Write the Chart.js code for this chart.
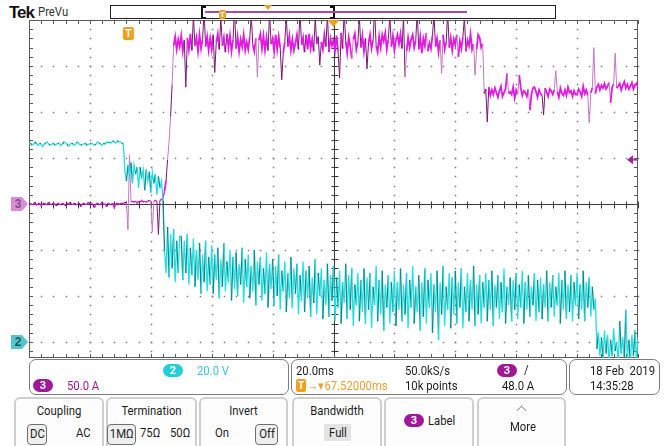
<!DOCTYPE html>
<html>
<head>
<meta charset="utf-8">
<script src="https://cdn.jsdelivr.net/npm/chart.js@4.4.0/dist/chart.umd.min.js"></script>
<style>
  html, body { margin: 0; padding: 0; background: #fff; }
  body {
    width: 667px; height: 446px; position: relative; overflow: hidden;
    font-family: Roboto, "Noto Sans", sans-serif;
    font-size: 13px; color: #1e1e1e;
  }
  #scope { position: absolute; left: 0; top: 0; width: 667px; height: 360px; }
  .abs { position: absolute; white-space: pre; line-height: 14px; transform: scaleX(0.87); transform-origin: 0 50%; }
  .panel { position: absolute; border: 1.5px solid #7c7c7c; border-radius: 7px; box-sizing: border-box; }
  .btn { position: absolute; top: 397px; height: 60px; border: 2px solid #cfcfcf; border-radius: 6px; box-sizing: border-box; background: #fdfdfd; }
  .btn .title { position: absolute; left: 0; right: 0; top: 5px; text-align: center; line-height: 14px; transform: scaleX(0.87); }
  .pill { position: absolute; width: 20px; height: 13px; border-radius: 7px; color: #fff; font-size: 11px; line-height: 13px; text-align: center; font-weight: bold; }
  .boxed { position: absolute; border: 1.5px solid #6f6f6f; border-radius: 4px; background: #eeeeee; box-sizing: border-box; text-align: center; line-height: 17px; }
  .boxed span { display: inline-block; transform: scaleX(0.87); }
  .tbox { position: absolute; background: #f0a01e; color: #fff; font-weight: bold; text-align: center; border-radius: 2px; }
</style>
</head>
<body>

<!-- header -->
<div class="abs" style="left:9px;top:4px;font:bold 17px 'Liberation Sans',sans-serif;letter-spacing:-1px;line-height:17px;color:#111;transform:none">Tek</div>
<div class="abs" style="left:38px;top:5px;font-size:13px;color:#333">PreVu</div>

<!-- record view bar -->
<div style="position:absolute;left:110px;top:5px;width:446px;height:14px;border:1px solid #222;box-sizing:border-box"></div>
<div style="position:absolute;left:201px;top:6px;width:2px;height:12px;background:#111"></div>
<div style="position:absolute;left:201px;top:6px;width:5px;height:1.5px;background:#111"></div>
<div style="position:absolute;left:201px;top:16.5px;width:5px;height:1.5px;background:#111"></div>
<div style="position:absolute;left:333px;top:6px;width:2px;height:12px;background:#111"></div>
<div style="position:absolute;left:330px;top:6px;width:5px;height:1.5px;background:#111"></div>
<div style="position:absolute;left:330px;top:16.5px;width:5px;height:1.5px;background:#111"></div>
<div style="position:absolute;left:205px;top:11px;width:262px;height:1.5px;background:#a94aa9"></div>
<div class="tbox" style="left:219px;top:10px;width:7px;height:9px;font-size:8px;line-height:9px">T</div>
<div style="position:absolute;left:264px;top:5px;width:0;height:0;border-left:4px solid transparent;border-right:4px solid transparent;border-top:5px solid #f0a01e"></div>

<div id="scope"><canvas id="scopeCanvas"></canvas></div>

<!-- readouts -->
<div class="panel" style="left:29px;top:359px;width:260px;height:36px"></div>
<div class="pill" style="left:163px;top:364px;background:#24cfd8">2</div>
<div class="abs" style="left:197px;top:364px;color:#3cc6d6">20.0 V</div>
<div class="pill" style="left:33px;top:379px;background:#a0189a">3</div>
<div class="abs" style="left:67px;top:379px;color:#a0189a">50.0 A</div>

<div class="panel" style="left:291px;top:359px;width:276px;height:36px"></div>
<div class="abs" style="left:296px;top:364px">20.0ms</div>
<div class="tbox" style="left:296px;top:379px;width:10px;height:13px;font-size:10px;line-height:13px">T</div>
<div class="abs" style="left:307px;top:379px;color:#e8a030">→▾67.52000ms</div>
<div class="abs" style="left:405px;top:364px">50.0kS/s</div>
<div class="abs" style="left:405px;top:379px">10k points</div>
<div class="pill" style="left:497px;top:364px;background:#a0189a">3</div>
<div class="abs" style="left:524px;top:363px">/</div>
<div class="abs" style="left:502px;top:379px">48.0 A</div>

<div class="panel" style="left:569px;top:359px;width:91px;height:36px"></div>
<div class="abs" style="left:590px;top:364px">18 Feb  2019</div>
<div class="abs" style="left:590px;top:379px">14:35:28</div>

<!-- menu buttons -->
<div class="btn" style="left:14px;width:90px"><div class="title">Coupling</div></div>
<div class="boxed" style="left:27px;top:424px;width:20px;height:21px"><span>DC</span></div>
<div class="abs" style="left:76px;top:426px">AC</div>

<div class="btn" style="left:106px;width:91px"><div class="title">Termination</div></div>
<div class="boxed" style="left:107px;top:424px;width:29px;height:21px"><span>1MΩ</span></div>
<div class="abs" style="left:140px;top:426px">75Ω</div>
<div class="abs" style="left:170px;top:426px">50Ω</div>

<div class="btn" style="left:199px;width:89px"><div class="title">Invert</div></div>
<div class="abs" style="left:215px;top:426px">On</div>
<div class="boxed" style="left:255px;top:424px;width:23px;height:21px"><span>Off</span></div>

<div class="btn" style="left:292px;width:90px"><div class="title">Bandwidth</div></div>
<div style="position:absolute;left:324px;top:424px;width:27px;height:17px;background:#e4e4e4"></div>
<div class="abs" style="left:329px;top:426px">Full</div>

<div class="btn" style="left:384px;width:90px"></div>
<div class="pill" style="left:404px;top:414px;background:#a0189a">3</div>
<div class="abs" style="left:428px;top:414px">Label</div>

<div class="btn" style="left:477px;width:89px"></div>
<div style="position:absolute;left:518px;top:407px;width:6px;height:6px;border-top:1.5px solid #9a9a9a;border-left:1.5px solid #9a9a9a;transform:rotate(45deg)"></div>
<div class="abs" style="left:510px;top:420px">More</div>

<script>
// scope settings
const msPerDiv = 20;
const voltsPerDiv = 20;   // channel 2
const ampsPerDiv = 50;    // channel 3
const divTop = 4;             // graticule divisions above centre
const divBottom = -154 / 46;  // lower part hidden by readouts
const ch2OffsetDiv = -3;      // channel 2 ground marker
const sampleMs = 0.5;
const triggerMs = 100 - 67.52;
const triggerLevelA = 48;

// channel 2 (cyan), volts, one sample every 0.5 ms
const ch2Volts = [
  86, 86.5, 85.5, 86, 87, 86, 85.5, 86.5, 86, 85, 86, 86.5, 87, 86, 85.5, 86, 86.5, 85.5, 86, 86.5,
  86, 85.5, 86, 87, 86.5, 86, 85, 86, 86.5, 86, 85.5, 86.5, 87, 86, 85.5, 86, 86, 86.5, 85.5, 86,
  86, 86.5, 86, 85.5, 86, 87, 86.5, 86, 85.5, 86.5, 86, 87, 86.5, 87, 86.5, 87.5, 87, 86.5, 87.5, 87,
  87, 86.5, 86, 74, 70, 77, 72, 78, 69, 77, 73, 76, 67, 76, 71, 75, 66, 75, 70, 74,
  65, 74, 69, 73, 64, 72, 67, 70, 62, 40, 30, 50, 28, 47, 32, 49, 26, 44, 30, 46,
  46, 27, 44, 30, 47, 25, 41, 29, 45, 24, 40, 27, 43, 21, 38, 26, 44, 22, 37, 25,
  42, 21, 38, 27, 41, 19, 36, 24, 43, 22, 35, 26, 40, 18, 37, 23, 39, 20, 34, 25,
  41, 17, 36, 24, 38, 19, 33, 22, 40, 16, 35, 25, 37, 18, 32, 21, 39, 15, 34, 23,
  36, 16, 33, 20, 38, 14, 31, 22, 35, 13, 30, 19, 37, 15, 32, 21, 34, 12, 29, 18,
  35, 13, 31, 19, 33, 11, 28, 17, 36, 12, 30, 20, 32, 10, 27, 16, 34, 11, 29, 18,
  33, 9, 28, 15, 31, 8, 26, 17, 34, 10, 29, 14, 32, 7, 25, 16, 30, 9, 27, 13,
  32, 8, 28, 14, 30, 6, 24, 16, 33, 9, 27, 12, 31, 5, 25, 15, 29, 8, 26, 13,
  31, 7, 26, 14, 32, 9, 25, 12, 30, 6, 27, 15, 33, 8, 24, 13, 29, 5, 26, 11,
  32, 8, 27, 15, 30, 4, 25, 13, 31, 1, 26, 12, 33, 7, 24, 14, 30, 6, 28, 12,
  31, 8, 26, 15, 32, 6, 24, 13, 30, 9, 27, 14, 33, 7, 25, 12, 29, 8, 26, 15,
  30, 9, 27, 14, 31, 7, 25, 15, 29, 10, 26, 13, 32, 8, 24, 16, 28, 9, 27, 14,
  30, 10, 25, 15, 31, 8, 26, 14, 29, 11, 24, 16, 30, 9, 27, 13, 28, 10, 25, 15,
  31, 9, 26, 15, 29, 11, 24, 16, 30, 8, 27, 14, 31, 10, 25, 13, 29, 9, 26, 16,
  30, 10, 25, 14, 31, 9, 26, 15, 28, 11, 24, 14, 19, -3, 4, -6, 2, -8, 5, -5,
  3, -9, 1, -6, 6, -4, 0, -10, 9, -5, 2, -8, 14, -7, 1, -9, 3, -6, 5, -8, 2
];

// channel 3 (magenta), amps, same time base
const ch3Amps = [
  0, 1, -1, 0, 2, -1, 0, 1, -2, 0, 1, 0, -1, 2, 0, -1, 1, 0, -2, 1,
  0, -1, 1, 0, -2, 1, 0, 2, -1, 0, 1, -1, 0, 1, -3, 0, 1, -1, 0, 2,
  0, 1, -1, -4, 0, 1, -1, 0, 2, -1, 0, -3, 1, 0, -1, 1, -4, 0, 1, 0,
  0, 1, 0, 2, 1, -28, 53, 2, 3, 2, 3, 1, 3, 2, 4, 2, 3, 2, 3, 4,
  3, -30, 3, 4, 3, -33, 4, 5, 6, 14, 25, 48, 68, 95, 130, 172, 182, 168, 179, 171,
  183, 166, 178, 127, 180, 168, 185, 167, 205, 172, 181, 166, 184, 169, 179, 210, 171, 182, 167, 180,
  168, 184, 143, 176, 185, 168, 203, 172, 181, 165, 185, 170, 183, 166, 178, 212, 169, 182, 166, 179,
  171, 184, 167, 176, 168, 181, 206, 173, 166, 180, 138, 178, 185, 169, 183, 167, 181, 167, 208, 174,
  180, 166, 184, 168, 182, 170, 135, 164, 176, 204, 171, 183, 167, 179, 167, 175, 184, 168, 211, 173,
  181, 165, 184, 168, 185, 169, 179, 166, 202, 174, 182, 151, 176, 168, 184, 171, 207, 165, 180, 172,
  178, 167, 183, 166, 137, 186, 169, 209, 177, 164, 181, 171, 158, 179, 185, 168, 176, 203, 170, 183,
  166, 180, 147, 175, 184, 169, 178, 212, 172, 165, 182, 170, 184, 177, 186, 168, 179, 205, 171, 183,
  167, 178, 184, 174, 185, 169, 204, 138, 166, 181, 170, 179, 184, 170, 177, 210, 168, 182, 164, 180,
  172, 186, 166, 175, 169, 183, 206, 171, 180, 165, 178, 142, 184, 168, 176, 208, 170, 181, 167, 179,
  173, 184, 160, 177, 169, 182, 203, 166, 178, 172, 185, 168, 174, 140, 168, 184, 181, 170, 174, 120,
  125, 89, 127, 118, 124, 119, 126, 121, 116, 123, 128, 117, 121, 125, 142, 120, 122, 119, 127, 115,
  124, 120, 140, 126, 118, 123, 121, 117, 125, 102, 119, 126, 127, 122, 116, 124, 120, 118, 97, 126,
  121, 117, 125, 123, 119, 124, 145, 122, 116, 126, 120, 118, 124, 118, 127, 121, 123, 117, 123, 119,
  119, 125, 122, 117, 128, 120, 124, 118, 88, 121, 126, 170, 120, 127, 130, 124, 129, 126, 131, 125,
  128, 132, 110, 127, 130, 164, 126, 128, 131, 124, 129, 133, 126, 130, 125, 128, 132, 125, 129, 131, 127
];

const timeMs = ch2Volts.map((v, i) => i * sampleMs);

const CYAN = "#1fe0e2";
const CYAN_DARK = "#12878b";
const MAGENTA = "#e01ce0";
const PURPLE_DARK = "#761872";
const PURPLE_LIGHT = "#c27ac2";

// Tek style graticule: dotted divisions, solid centre cross with ticks
const graticule = {
  id: "graticule",
  beforeDatasetsDraw(chart) {
    const { ctx, chartArea: a, scales } = chart;
    const px = ms => Math.round(scales.x.getPixelForValue(ms)) + 0.5;
    const py = amps => Math.round(scales.y3.getPixelForValue(amps)) + 0.5;
    const xMinor = msPerDiv / 5;
    const yMinor = ampsPerDiv / 5;
    const kyLo = Math.ceil(divBottom * 5), kyHi = divTop * 5;
    ctx.save();

    ctx.fillStyle = "#7c7c7c";
    for (let d = 1; d < 10; d++) {
      if (d === 5) continue;
      const x = px(d * msPerDiv);
      for (let k = kyLo; k <= kyHi; k++) ctx.fillRect(x - 0.75, py(k * yMinor) - 0.75, 1.5, 1.5);
    }
    for (let d = Math.ceil(divBottom); d < divTop; d++) {
      if (d === 0) continue;
      const y = py(d * ampsPerDiv);
      for (let k = 0; k <= 50; k++) ctx.fillRect(px(k * xMinor) - 0.75, y - 0.75, 1.5, 1.5);
    }

    ctx.strokeStyle = "#3a3a3a";
    ctx.lineWidth = 1;
    ctx.beginPath();
    const cx = px(5 * msPerDiv), cy = py(0);
    ctx.moveTo(cx, a.top); ctx.lineTo(cx, a.bottom);
    ctx.moveTo(a.left, cy); ctx.lineTo(a.right, cy);
    for (let k = kyLo; k <= kyHi; k++) {
      const y = py(k * yMinor);
      ctx.moveTo(cx - 3, y); ctx.lineTo(cx + 4, y);
    }
    for (let k = 0; k <= 50; k++) {
      const x = px(k * xMinor);
      ctx.moveTo(x, cy - 3); ctx.lineTo(x, cy + 4);
    }
    ctx.stroke();

    ctx.strokeStyle = "#5a5a5a";
    ctx.beginPath();
    ctx.rect(a.left + 0.5, a.top + 0.5, a.right - a.left - 1, a.bottom - a.top - 1);
    for (let k = 0; k <= 50; k++) {
      const x = px(k * xMinor);
      ctx.moveTo(x, a.top); ctx.lineTo(x, a.top + 4);
      ctx.moveTo(x, a.bottom); ctx.lineTo(x, a.bottom - 4);
    }
    for (let k = kyLo; k <= kyHi; k++) {
      const y = py(k * yMinor);
      ctx.moveTo(a.left, y); ctx.lineTo(a.left + 4, y);
      ctx.moveTo(a.right, y); ctx.lineTo(a.right - 4, y);
    }
    ctx.stroke();
    ctx.restore();
  }
};

function groundMarker(ctx, y, fill, textColor, label) {
  ctx.beginPath();
  ctx.moveTo(11, y - 7); ctx.lineTo(22, y - 7); ctx.lineTo(28, y);
  ctx.lineTo(22, y + 7); ctx.lineTo(11, y + 7); ctx.closePath();
  ctx.fillStyle = fill;
  ctx.fill();
  ctx.fillStyle = textColor;
  ctx.font = "bold 12px 'Liberation Sans', sans-serif";
  ctx.textAlign = "center";
  ctx.textBaseline = "middle";
  ctx.fillText(label, 18, y + 1);
}

const markers = {
  id: "markers",
  afterDraw(chart) {
    const { ctx, chartArea: a, scales } = chart;
    ctx.save();
    groundMarker(ctx, scales.y3.getPixelForValue(0), "#d98cd9", "#8a4a8a", "3");
    groundMarker(ctx, scales.y2.getPixelForValue(0), "#52c6c8", "#1b5a60", "2");

    // trigger position
    const tx = scales.x.getPixelForValue(triggerMs);
    ctx.fillStyle = "#f0a01e";
    ctx.beginPath();
    ctx.roundRect(tx - 5, a.top + 7, 11, 13, 2);
    ctx.fill();
    ctx.fillStyle = "#fff";
    ctx.font = "bold 11px 'Liberation Sans', sans-serif";
    ctx.textAlign = "center";
    ctx.textBaseline = "middle";
    ctx.fillText("T", tx + 0.5, a.top + 14);

    // expansion point
    const cx = scales.x.getPixelForValue(5 * msPerDiv);
    ctx.fillStyle = "#f0a01e";
    ctx.beginPath();
    ctx.moveTo(cx - 6, a.top); ctx.lineTo(cx + 6, a.top); ctx.lineTo(cx, a.top + 7);
    ctx.closePath();
    ctx.fill();

    // trigger level
    const ly = scales.y3.getPixelForValue(triggerLevelA);
    ctx.fillStyle = "#a3209e";
    ctx.beginPath();
    ctx.moveTo(a.right - 11, ly); ctx.lineTo(a.right - 5, ly - 4.5); ctx.lineTo(a.right - 5, ly + 4.5);
    ctx.closePath();
    ctx.fill();
    ctx.fillRect(a.right - 6, ly - 0.75, 5, 1.5);
    ctx.restore();
  }
};

const toPoints = values => values.map((v, i) => ({ x: timeMs[i], y: v }));

// spikes on the current trace are thin and dim, the dense band is bright
const isSpike = c => Math.abs(c.p1.parsed.y - c.p0.parsed.y) > 18;
const isBaseline = c => Math.abs(c.p0.parsed.y) < 15 && Math.abs(c.p1.parsed.y) < 15;
const spikeColor = c => {
  const lo = Math.min(c.p0.parsed.y, c.p1.parsed.y);
  const hi = Math.max(c.p0.parsed.y, c.p1.parsed.y);
  if (hi > 195) return PURPLE_DARK;
  return Math.round(lo) % 2 ? PURPLE_DARK : PURPLE_LIGHT;
};

new Chart(document.getElementById("scopeCanvas").getContext("2d"), {
  type: "line",
  data: {
    datasets: [
      {
        label: "Ch2",
        data: toPoints(ch2Volts),
        yAxisID: "y2",
        borderColor: CYAN,
        borderWidth: 1.3,
        pointRadius: 0,
        tension: 0,
        clip: 0,
        segment: {
          borderColor: c => (c.p0DataIndex % 3 === 1 ? CYAN_DARK : CYAN)
        }
      },
      {
        label: "Ch3",
        data: toPoints(ch3Amps),
        yAxisID: "y3",
        borderColor: MAGENTA,
        borderWidth: 1.4,
        pointRadius: 0,
        tension: 0,
        clip: 0,
        segment: {
          borderColor: c => {
            if (isBaseline(c)) return c.p0DataIndex % 3 === 0 ? PURPLE_DARK : MAGENTA;
            return isSpike(c) ? spikeColor(c) : MAGENTA;
          },
          borderWidth: c => (isBaseline(c) ? 1.4 : isSpike(c) ? 1 : 1.8)
        }
      }
    ]
  },
  options: {
    responsive: true,
    maintainAspectRatio: false,
    animation: false,
    events: [],
    layout: { padding: { left: 29, top: 20, right: 29, bottom: 2 } },
    plugins: { legend: { display: false }, tooltip: { enabled: false } },
    scales: {
      x: { type: "linear", min: 0, max: 10 * msPerDiv, display: false },
      y3: { type: "linear", min: divBottom * ampsPerDiv, max: divTop * ampsPerDiv, display: false },
      y2: {
        type: "linear",
        min: (divBottom - ch2OffsetDiv) * voltsPerDiv,
        max: (divTop - ch2OffsetDiv) * voltsPerDiv,
        display: false
      }
    }
  },
  plugins: [graticule, markers]
});
</script>
</body>
</html>
